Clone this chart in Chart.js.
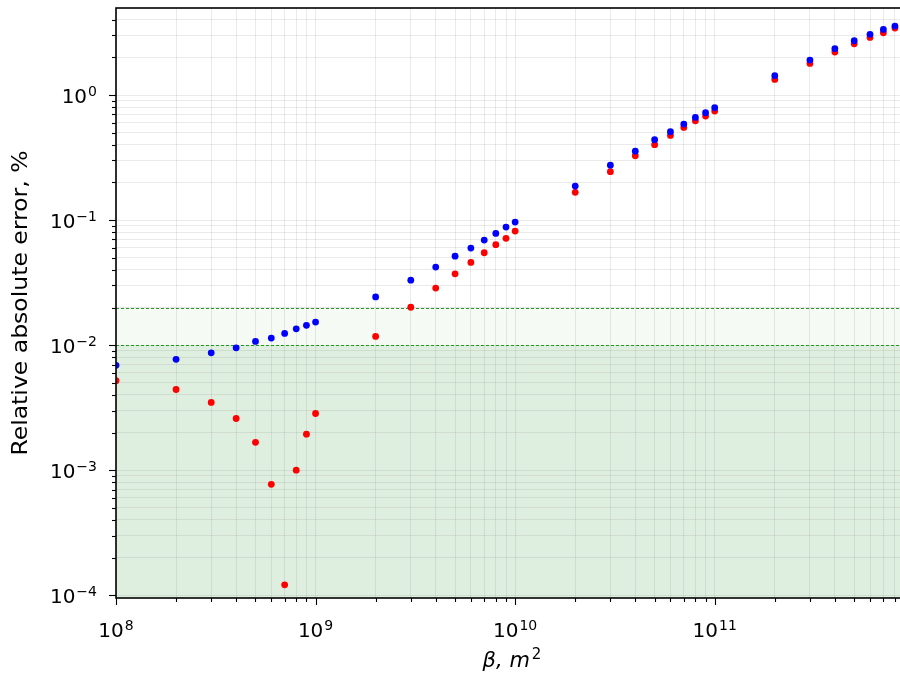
<!DOCTYPE html>
<html lang="en">
<head>
<meta charset="UTF-8">
<title>Relative absolute error vs beta</title>
<script src="https://cdn.jsdelivr.net/npm/chart.js"></script>
<style>
    body {
        margin: 0;
        padding: 0;
        background: #fff;
        overflow: hidden;
        width: 900px;
        height: 682px;
    }
    canvas { display: block; }
</style>
</head>
<body>
<canvas id="errChart" width="912" height="682"></canvas>
<script>
// beta values, m^2
const betaValues = [
    1e8, 2e8, 3e8, 4e8, 5e8, 6e8, 7e8, 8e8, 9e8,
    1e9, 2e9, 3e9, 4e9, 5e9, 6e9, 7e9, 8e9, 9e9,
    1e10, 2e10, 3e10, 4e10, 5e10, 6e10, 7e10, 8e10, 9e10,
    1e11, 2e11, 3e11, 4e11, 5e11, 6e11, 7e11, 8e11
];
// relative absolute error, %
const blueErrors = [
    0.0069, 0.0077, 0.00868, 0.00952, 0.0107, 0.0114, 0.0124, 0.0135, 0.0144,
    0.0153, 0.0243, 0.0331, 0.0421, 0.0515, 0.0597, 0.0692, 0.0783, 0.0879,
    0.0964, 0.187, 0.275, 0.356, 0.439, 0.509, 0.586, 0.663, 0.722,
    0.792, 1.43, 1.905, 2.35, 2.72, 3.06, 3.35, 3.56
];
const redErrors = [
    0.0052, 0.00442, 0.00348, 0.00259, 0.00167, 0.00077, 0.000121, 0.00100, 0.00194,
    0.00284, 0.01174, 0.0201, 0.0286, 0.0372, 0.0459, 0.0548, 0.0636, 0.0715,
    0.0817, 0.1667, 0.244, 0.327, 0.401, 0.476, 0.551, 0.623, 0.679,
    0.745, 1.335, 1.79, 2.21, 2.57, 2.89, 3.15, 3.44
];
// axis limits and decade ticks
const xLimits = [1e8, 9.3e11];
const yLimits = [9.5e-5, 4.97];
const xDecades = [8, 9, 10, 11];
const yDecades = [-5, -4, -3, -2, -1, 0];
// tolerance levels (shaded bands + dashed lines)
const thresholds = [0.01, 0.02];

const FONT = '"DejaVu Sans", sans-serif';

function decadeTicks(decades, lim) {
    const out = [];
    decades.forEach(e => {
        for (let m = 1; m <= 9; m++) {
            const v = m * Math.pow(10, e);
            if (v >= lim[0] * 0.999 && v <= lim[1] * 1.001) out.push({ value: v, major: m === 1 });
        }
    });
    return out;
}

function supLabel(exp) {
    return exp < 0 ? '\u2212' + Math.abs(exp) : String(exp);
}

// draws "10" with a raised exponent; anchor is 'right' or 'center'
function drawPow(ctx, exp, x, baseline, anchor) {
    const base = '10', sup = supLabel(exp);
    ctx.font = '20px ' + FONT;
    const wb = ctx.measureText(base).width;
    ctx.font = '14px ' + FONT;
    const ws = ctx.measureText(sup).width;
    const total = wb + ws + 1;
    const left = anchor === 'right' ? x - total : x - total / 2;
    ctx.textAlign = 'left';
    ctx.textBaseline = 'alphabetic';
    ctx.font = '20px ' + FONT;
    ctx.fillText(base, left, baseline);
    ctx.font = '14px ' + FONT;
    ctx.fillText(sup, left + wb + 1, baseline - 7);
}

const mplLook = {
    id: 'mplLook',
    beforeDraw(chart) {
        const { ctx, chartArea: a, scales: { y } } = chart;
        ctx.save();
        ctx.fillStyle = '#fff';
        ctx.fillRect(0, 0, chart.width, chart.height);
        const y1 = y.getPixelForValue(thresholds[0]);
        const y2 = y.getPixelForValue(thresholds[1]);
        ctx.fillStyle = 'rgba(0,128,0,0.04)';
        ctx.fillRect(a.left, y2, a.width, y1 - y2);
        ctx.fillStyle = 'rgba(0,128,0,0.125)';
        ctx.fillRect(a.left, y1, a.width, a.bottom - y1);
        ctx.restore();
    },
    beforeDatasetsDraw(chart) {
        const { ctx, chartArea: a, scales: { y } } = chart;
        ctx.save();
        ctx.strokeStyle = 'rgba(20,140,20,0.9)';
        ctx.lineWidth = 1;
        ctx.setLineDash([3, 2]);
        thresholds.forEach(t => {
            const py = Math.round(y.getPixelForValue(t)) + 0.5;
            ctx.beginPath();
            ctx.moveTo(a.left, py);
            ctx.lineTo(a.right, py);
            ctx.stroke();
        });
        ctx.restore();
    },
    afterDraw(chart) {
        const { ctx, chartArea: a, scales: { x, y } } = chart;
        ctx.save();
        // spines
        ctx.strokeStyle = '#000';
        ctx.lineWidth = 1.6;
        ctx.strokeRect(a.left, a.top, a.right - a.left, a.bottom - a.top);
        // tick marks
        ctx.lineWidth = 1.1;
        x.ticks.forEach(t => {
            const px = Math.round(x.getPixelForValue(t.value)) + 0.5;
            ctx.beginPath();
            ctx.moveTo(px, a.bottom);
            ctx.lineTo(px, a.bottom + (t.major ? 7 : 4));
            ctx.stroke();
        });
        y.ticks.forEach(t => {
            const py = Math.round(y.getPixelForValue(t.value)) + 0.5;
            ctx.beginPath();
            ctx.moveTo(a.left, py);
            ctx.lineTo(a.left - (t.major ? 7 : 4), py);
            ctx.stroke();
        });
        // tick labels
        ctx.fillStyle = '#000';
        x.ticks.filter(t => t.major).forEach(t => {
            const e = Math.round(Math.log10(t.value));
            drawPow(ctx, e, x.getPixelForValue(t.value), a.bottom + 39, 'center');
        });
        y.ticks.filter(t => t.major).forEach(t => {
            const e = Math.round(Math.log10(t.value));
            drawPow(ctx, e, a.left - 19, y.getPixelForValue(t.value) + 8, 'right');
        });
        // axis titles
        ctx.textAlign = 'left';
        ctx.textBaseline = 'alphabetic';
        ctx.font = 'italic 21px ' + FONT;
        const t1 = '\u03B2, m';
        const w1 = ctx.measureText(t1).width;
        ctx.font = '15px ' + FONT;
        const w2 = ctx.measureText('2').width;
        const cx = (a.left + a.right) / 2;
        const startX = cx - (w1 + w2 + 2) / 2;
        ctx.font = 'italic 21px ' + FONT;
        ctx.fillText(t1, startX, a.bottom + 69);
        ctx.font = '15px ' + FONT;
        ctx.fillText('2', startX + w1 + 2, a.bottom + 61);

        // y title (the source image is a bit stretched vertically)
        ctx.translate(22, (a.top + a.bottom) / 2);
        ctx.rotate(-Math.PI / 2);
        ctx.scale(1.12, 1);
        ctx.font = '21px ' + FONT;
        ctx.textAlign = 'center';
        ctx.textBaseline = 'middle';
        ctx.fillText('Relative absolute error, %', 0, 0);
        ctx.restore();
    }
};

const toPoints = vals => betaValues.map((b, i) => ({ x: b, y: vals[i] }));

new Chart(document.getElementById('errChart'), {
    type: 'scatter',
    data: {
        datasets: [
            {
                label: 'blue',
                data: toPoints(blueErrors),
                backgroundColor: 'rgb(0,0,255)',
                borderWidth: 0,
                pointRadius: 3.4,
                order: 0
            },
            {
                label: 'red',
                data: toPoints(redErrors),
                backgroundColor: 'rgb(255,0,0)',
                borderWidth: 0,
                pointRadius: 3.4,
                order: 1
            }
        ]
    },
    options: {
        responsive: false,
        animation: false,
        layout: { padding: { left: 116, top: 8, right: 2, bottom: 84 } },
        plugins: {
            legend: { display: false },
            tooltip: { enabled: false }
        },
        scales: {
            x: {
                type: 'logarithmic',
                min: xLimits[0],
                max: xLimits[1],
                afterBuildTicks: s => { s.ticks = decadeTicks(xDecades, xLimits); },
                ticks: { display: false, autoSkip: false },
                grid: { color: 'rgba(128,128,128,0.17)', lineWidth: 1, drawTicks: false },
                border: { display: false }
            },
            y: {
                type: 'logarithmic',
                min: yLimits[0],
                max: yLimits[1],
                afterBuildTicks: s => { s.ticks = decadeTicks(yDecades, yLimits); },
                ticks: { display: false, autoSkip: false },
                grid: { color: 'rgba(128,128,128,0.17)', lineWidth: 1, drawTicks: false },
                border: { display: false }
            }
        }
    },
    plugins: [mplLook]
});
</script>
</body>
</html>
